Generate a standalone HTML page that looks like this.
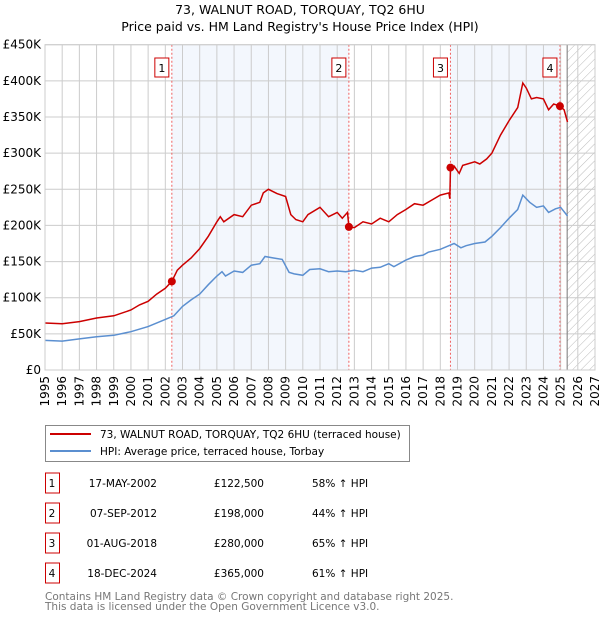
<!DOCTYPE html>
<html><head><meta charset="utf-8"><style>
body{margin:0;background:#fff;font-family:"DejaVu Sans","Liberation Sans",sans-serif;}
svg text{font-family:"DejaVu Sans","Liberation Sans",sans-serif;}
</style></head><body>
<svg id="c" width="600" height="620" xmlns="http://www.w3.org/2000/svg">
<defs><pattern id="hatch" width="6" height="6" patternUnits="userSpaceOnUse" patternTransform="rotate(45)"><line x1="0" y1="0" x2="0" y2="6" stroke="#bbb" stroke-width="1"/></pattern></defs>
<text x="300" y="14" text-anchor="middle" font-size="12.5">73, WALNUT ROAD, TORQUAY, TQ2 6HU</text>
<text x="300" y="31" text-anchor="middle" font-size="12.5">Price paid vs. HM Land Registry's House Price Index (HPI)</text>
<g id="plot"></g>
<g>
<rect x="45.5" y="425.5" width="364" height="36" fill="#fff" stroke="#888"/>
<line x1="50" y1="434" x2="91" y2="434" stroke="#cc0000" stroke-width="2"/>
<text x="100" y="438" font-size="10.5">73, WALNUT ROAD, TORQUAY, TQ2 6HU (terraced house)</text>
<line x1="50" y1="451" x2="91" y2="451" stroke="#5b8fd0" stroke-width="2"/>
<text x="100" y="455" font-size="10.5">HPI: Average price, terraced house, Torbay</text>
</g>
<g id="table" font-size="10.5"></g>
<text x="45" y="600" font-size="10.5" fill="#777">Contains HM Land Registry data © Crown copyright and database right 2025.</text>
<text x="45" y="610" font-size="10.5" fill="#777">This data is licensed under the Open Government Licence v3.0.</text>
</svg>
<script>
const yTicks=[0,50,100,150,200,250,300,350,400,450];
const yTickLabels=["£0","£50K","£100K","£150K","£200K","£250K","£300K","£350K","£400K","£450K"];
const years=[1995,1996,1997,1998,1999,2000,2001,2002,2003,2004,2005,2006,2007,2008,2009,2010,2011,2012,2013,2014,2015,2016,2017,2018,2019,2020,2021,2022,2023,2024,2025,2026,2027];
const redT=[1995,1996,1997,1998,1999,2000,2000.5,2001,2001.5,2002,2002.38,2002.7,2003,2003.5,2004,2004.5,2005,2005.2,2005.4,2006,2006.5,2007,2007.5,2007.7,2008,2008.5,2009,2009.3,2009.6,2010,2010.3,2011,2011.5,2012,2012.3,2012.6,2012.68,2013,2013.5,2014,2014.5,2015,2015.5,2016,2016.5,2017,2017.5,2018,2018.5,2018.55,2018.59,2018.8,2019.1,2019.3,2020,2020.3,2020.7,2021,2021.5,2022,2022.5,2022.8,2023,2023.3,2023.6,2024,2024.3,2024.6,2024.96,2025.2,2025.4];
const redV=[65,64,67,72,75,83,90,95,105,113,122.5,138,145,155,168,185,205,212,205,215,212,228,232,245,250,244,240,215,208,205,215,225,212,218,210,218,198,197,205,202,210,205,215,222,230,228,235,242,245,237,280,282,272,283,288,285,292,300,325,345,363,397,390,375,377,375,360,368,365,360,343];
const blueT=[1995,1996,1997,1998,1999,2000,2001,2002,2002.5,2003,2003.5,2004,2004.5,2005,2005.3,2005.5,2006,2006.5,2007,2007.5,2007.8,2008.3,2008.8,2009.2,2009.5,2010,2010.4,2011,2011.5,2012,2012.5,2013,2013.5,2014,2014.5,2015,2015.3,2016,2016.5,2017,2017.3,2018,2018.5,2018.8,2019.2,2019.5,2020,2020.6,2021,2021.5,2022,2022.5,2022.8,2023.2,2023.6,2024,2024.3,2024.7,2025,2025.4];
const blueV=[41,40,43,46,48,53,60,70,75,88,97,105,118,130,136,130,137,135,145,147,157,155,153,135,133,131,139,140,136,137,136,138,136,141,142,147,143,152,157,159,163,167,172,175,169,172,175,177,185,197,210,222,242,232,225,227,218,223,225,213];
const saleT=[2002.38,2012.68,2018.59,2024.96];
const saleV=[122.5,198,280,365];
const saleLabels=["1","2","3","4"];
const saleDates=["17-MAY-2002","07-SEP-2012","01-AUG-2018","18-DEC-2024"];
const salePrices=["£122,500","£198,000","£280,000","£365,000"];
const saleHpi=["58% ↑ HPI","44% ↑ HPI","65% ↑ HPI","61% ↑ HPI"];
const forecastStart=2025.38;

const NS="http://www.w3.org/2000/svg";
const X0=45,X1=595,Y0=370,Y1=44.7;
const x=t=>X0+(t-1995)/(2027-1995)*(X1-X0);
const y=v=>Y0-v/450*(Y0-Y1);
function mk(tag,attrs,parent){const e=document.createElementNS(NS,tag);for(const k in attrs)e.setAttribute(k,attrs[k]);parent.appendChild(e);return e;}
const p=document.getElementById('plot');
const shadeA=mk('rect',{x:x(saleT[0]),y:Y1,width:x(saleT[1])-x(saleT[0]),height:Y0-Y1,fill:'#eef3fc',opacity:0.7},p);


const shadeB=mk('rect',{x:x(saleT[2]),y:Y1,width:x(saleT[3])-x(saleT[2]),height:Y0-Y1,fill:'#eef3fc',opacity:0.7},p);


const hat=mk('rect',{x:x(forecastStart),y:Y1,width:X1-x(forecastStart),height:Y0-Y1,fill:'url(#hatch)'},p);


years.forEach(yr=>{const l=mk('line',{x1:x(yr),x2:x(yr),y1:Y1,y2:Y0,stroke:'#ccc','stroke-width':1},p);


const t=mk('text',{x:0,y:0,'font-size':12,'text-anchor':'end',transform:`translate(${x(yr)+4},${Y0+6}) rotate(-90)`},p);t.textContent=yr;

});
yTicks.forEach((v,i)=>{const l=mk('line',{x1:X0,x2:X1,y1:y(v),y2:y(v),stroke:'#ccc','stroke-width':1},p);


const t=mk('text',{x:X0-4,y:y(v)+4,'font-size':12,'text-anchor':'end'},p);t.textContent=yTickLabels[i];

});
const fl=mk('line',{x1:x(forecastStart),x2:x(forecastStart),y1:Y1,y2:Y0,stroke:'#777','stroke-width':1},p);


saleT.forEach((t,i)=>{const l=mk('line',{x1:x(t),x2:x(t),y1:Y1,y2:Y0,stroke:'#f06060','stroke-width':1,'stroke-dasharray':'2,2'},p);


const r=mk('rect',{x:x(t)-17,y:58,width:14,height:19,fill:'#fff',stroke:'#cc0000'},p);


const tx=mk('text',{x:x(t)-10,y:72,'font-size':11,'text-anchor':'middle'},p);tx.textContent=saleLabels[i];

});
const path=(T,V)=>T.map((t,i)=>(i?'L':'M')+x(t).toFixed(1)+','+y(V[i]).toFixed(1)).join('');
const bl=mk('path',{d:path(blueT,blueV),fill:'none',stroke:'#5b8fd0','stroke-width':1.5},p);


const rl=mk('path',{d:path(redT,redV),fill:'none',stroke:'#cc0000','stroke-width':1.5},p);


saleT.forEach((t,i)=>{const c=mk('circle',{cx:x(t),cy:y(saleV[i]),r:4,fill:'#cc0000'},p);

});
const ax=mk('rect',{x:X0,y:Y1,width:X1-X0,height:Y0-Y1,fill:'none',stroke:'#ccc'},p);


const tb=document.getElementById('table');
saleT.forEach((t,i)=>{const cy=483+i*30;
const r=mk('rect',{x:45.5,y:cy-10,width:14,height:20,fill:'#fff',stroke:'#cc0000'},tb);


const cells=[[52,'middle',saleLabels[i]],[157,'end',saleDates[i]],[264,'end',salePrices[i]],[312,'start',saleHpi[i]]];
cells.forEach(c=>{const e=mk('text',{x:c[0],y:cy+4,'text-anchor':c[1]},tb);e.textContent=c[2];

});});
</script>
</body></html>
